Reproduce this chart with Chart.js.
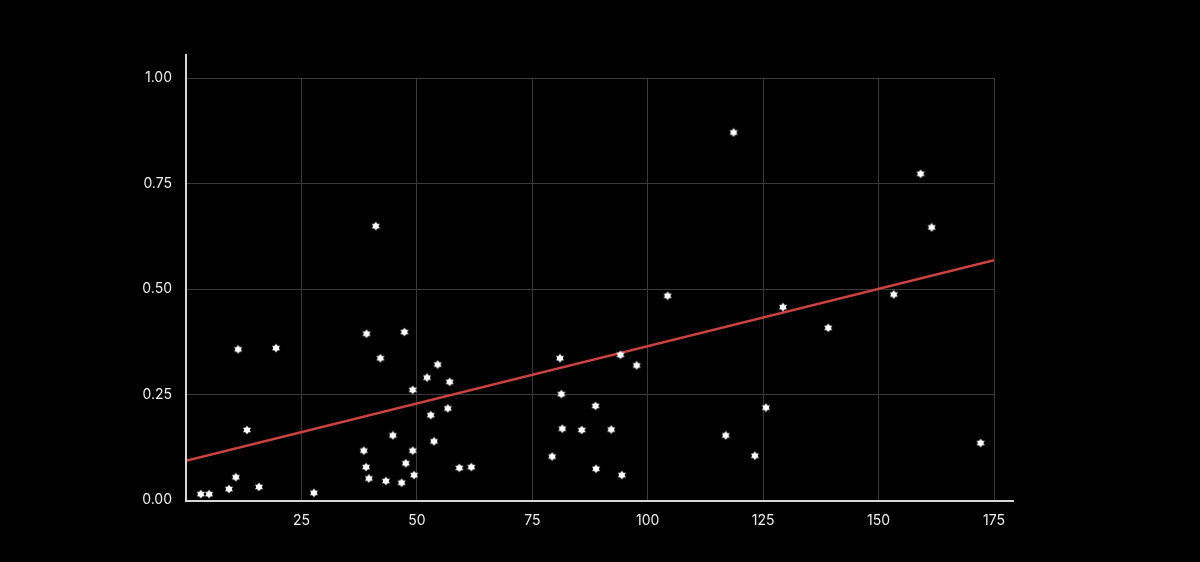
<!DOCTYPE html>
<html>
<head>
<meta charset="utf-8">
<script src="https://cdn.jsdelivr.net/npm/chart.js@4.4.1/dist/chart.umd.min.js"></script>
<style>
  html, body { margin: 0; padding: 0; background: #000; }
  #chartContainer { width: 1200px; height: 562px; }
</style>
</head>
<body>
<div id="chartContainer">
  <canvas id="chart" width="1200" height="562"></canvas>
</div>
<script>
// scatter points
const xValues = [3.2, 5.0, 9.3, 10.8, 11.3, 13.2, 15.8, 19.5, 27.7, 38.5,
  39.1, 39.0, 39.6, 41.1, 42.1, 43.3, 44.8, 46.7, 47.3, 47.6,
  49.1, 49.1, 49.4, 52.2, 53.0, 53.7, 54.5, 56.7, 57.1, 59.2,
  61.8, 79.3, 81.0, 81.3, 81.5, 85.7, 88.7, 88.8, 92.1, 94.1,
  94.4, 97.6, 104.3, 116.9, 118.6, 123.2, 125.6, 129.3, 139.1, 153.3,
  159.1, 161.5, 172.1];
const yValues = [0.014, 0.014, 0.026, 0.054, 0.357, 0.166, 0.031, 0.360, 0.017, 0.117,
  0.394, 0.078, 0.051, 0.649, 0.336, 0.045, 0.153, 0.041, 0.398, 0.087,
  0.261, 0.117, 0.059, 0.290, 0.201, 0.139, 0.321, 0.217, 0.280, 0.076,
  0.078, 0.103, 0.336, 0.251, 0.169, 0.166, 0.223, 0.074, 0.167, 0.344,
  0.059, 0.319, 0.484, 0.153, 0.871, 0.105, 0.219, 0.457, 0.408, 0.487,
  0.773, 0.646, 0.135];

// fitted trend line, ends only
const trendX = [0, 175];
const trendY = [0.093, 0.568];

const xTicks = [25, 50, 75, 100, 125, 150, 175];
const yTicks = [0, 0.25, 0.5, 0.75, 1];

const points = xValues.map((x, i) => ({ x: x, y: yValues[i] }));
const trend = trendX.map((x, i) => ({ x: x, y: trendY[i] }));

// small filled six pointed star used as the marker
function makeMarker() {
  const c = document.createElement('canvas');
  c.width = 10; c.height = 10;
  const g = c.getContext('2d');
  g.fillStyle = '#ffffff';
  const r = 4.6;
  for (let t = 0; t < 2; t++) {
    g.beginPath();
    for (let k = 0; k < 3; k++) {
      const a = -Math.PI / 2 + t * Math.PI + k * 2 * Math.PI / 3;
      const px = 5 + r * Math.cos(a), py = 5 + r * Math.sin(a);
      if (k === 0) g.moveTo(px, py); else g.lineTo(px, py);
    }
    g.closePath();
    g.fill();
  }
  g.beginPath();
  g.arc(5, 5, 2.6, 0, Math.PI * 2);
  g.fill();
  return c;
}

// axis lines run a bit past the grid
const axisLines = {
  id: 'axisLines',
  afterDatasetsDraw(chart) {
    const ctx = chart.ctx;
    const a = chart.chartArea;
    ctx.save();
    ctx.strokeStyle = '#d6d6d6';
    ctx.lineWidth = 2;
    ctx.beginPath();
    ctx.moveTo(a.left, a.top - 24);
    ctx.lineTo(a.left, a.bottom + 1);
    ctx.lineTo(a.right + 20, a.bottom + 1);
    ctx.stroke();
    ctx.restore();
  }
};

const config = {
  data: {
    datasets: [
      {
        type: 'line',
        data: trend,
        borderColor: '#c94342',
        borderWidth: 2.5,
        pointRadius: 0,
        fill: false,
        order: 2
      },
      {
        type: 'scatter',
        data: points,
        pointStyle: makeMarker(),
        pointRadius: 5,
        order: 1
      }
    ]
  },
  options: {
    responsive: false,
    animation: false,
    layout: { padding: { top: 78, right: 206, left: 0, bottom: 0 } },
    plugins: { legend: { display: false }, tooltip: { enabled: false } },
    scales: {
      x: {
        type: 'linear',
        min: 0,
        max: 175,
        afterFit: s => { s.height = 62; },
        afterBuildTicks: s => { s.ticks = xTicks.map(v => ({ value: v })); },
        grid: { color: '#3a3a3a', lineWidth: 1, drawTicks: false },
        border: { display: false },
        ticks: {
          color: '#eeeeee',
          padding: 12,
          maxRotation: 0,
          font: { family: 'Inter', size: 14 }
        }
      },
      y: {
        type: 'linear',
        min: 0,
        max: 1,
        afterFit: s => { s.width = 186; },
        afterBuildTicks: s => { s.ticks = yTicks.map(v => ({ value: v })); },
        grid: { color: '#3a3a3a', lineWidth: 1, drawTicks: false },
        border: { display: false },
        ticks: {
          color: '#eeeeee',
          padding: 14,
          font: { family: 'Inter', size: 14 },
          callback: v => v.toFixed(2)
        }
      }
    }
  },
  plugins: [axisLines]
};

const scatterChart = new Chart(document.getElementById('chart').getContext('2d'), config);
</script>
</body>
</html>
